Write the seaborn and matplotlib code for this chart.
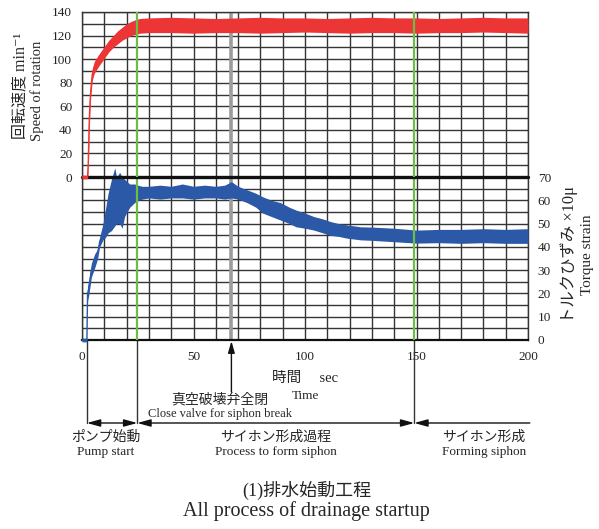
import matplotlib
matplotlib.use("Agg")
import matplotlib.pyplot as plt
import matplotlib.transforms as mtransforms
import pandas as pd
import seaborn as sns

# Pump rotation speed (min^-1): lower / upper edge of the recorded trace
speed_time = [0, 2.3, 2.5, 2.8, 3.2, 3.6, 4.0, 4.6, 5.5, 6.5, 7.5, 9, 10.5, 12, 14, 16, 18,
              20, 22, 24, 26, 30, 40, 50, 60, 70, 80, 90, 100, 110, 120, 130, 140, 150,
              160, 170, 180, 190, 200]
speed_low = [-1.5, -1.5, -1.5, 5, 35, 58, 70, 82, 88, 91, 94, 98, 102, 106, 110, 113, 116,
             118, 120, 121, 122, 122.5, 122.5, 122, 122.5, 122.5, 122, 122.5, 123, 122.5,
             122, 122.5, 122.5, 122, 122.5, 122.5, 123, 122.5, 122]
speed_high = [1.5, 1.5, 3, 18, 55, 70, 80, 92, 98, 101, 104, 108, 112, 116, 120, 124, 127,
              130, 132, 133.5, 134.5, 135, 135.5, 135, 134.5, 135, 135.5, 135, 135, 134.5,
              135, 135.5, 135, 135, 134.5, 135, 135.5, 135, 135]

# Torque strain (x10 micro): lower / upper edge of the recorded trace
torque_time = [0, 2.2, 2.5, 3.0, 4.2, 5.7, 7.0, 7.9, 9.4, 10.5, 11.7, 13.2, 14.7, 15.5, 16.9,
               18.0, 19.1, 20.2, 21.4, 22.5, 23.6, 25, 27, 30, 35, 40, 45, 50, 55, 60, 64,
               67, 70, 74, 78, 81, 85, 89, 93, 96, 100, 104, 108, 111, 115, 119, 125, 130,
               140, 150, 160, 170, 180, 190, 200]
torque_low = [-0.8, -0.8, 17, 19, 27, 31, 35, 40, 43, 44, 46, 47, 49, 50, 50,
              48, 53, 55, 57, 58, 59, 60, 60.5, 61, 60.5, 61, 61, 60.5, 61, 61, 60.5,
              61, 60.5, 59, 57, 54.5, 53, 51.5, 50, 48.6, 48, 47.2, 46, 45, 44.5, 43.7, 43,
              42.8, 42.2, 41.6, 41.8, 41.5, 41.8, 41.5, 41.5]
torque_high = [0.8, 0.8, 23, 25, 33, 37, 39, 44, 50, 56, 63, 69, 74, 70, 72,
               70, 69, 68, 67, 67, 67, 66.5, 66, 66, 66.5, 66, 67, 66, 66.5, 66, 66.5,
               68, 66, 64.5, 63, 61.5, 60, 59, 57, 55.8, 54.5, 53, 52, 51, 50, 49.4, 48.6,
               48.5, 48, 47.2, 47.5, 47.5, 47.8, 47.5, 47.8]

# Process events (sec)
pump_start = 2.2
valve_close_start = 24.8
valve_closed = 67
siphon_formed = 149

speed_ticks = [0, 20, 40, 60, 80, 100, 120, 140]
torque_ticks = [0, 10, 20, 30, 40, 50, 60, 70]
time_ticks = [0, 50, 100, 150, 200]

RED = "#ec3535"
BLUE = "#2c58a8"
GREEN = "#6cbf45"
GRID = "#353535"

sns.set_theme(style="white")
plt.rcParams["font.family"] = ["Liberation Serif", "Noto Sans CJK JP", "DejaVu Serif"]

W, H = 599, 529
fig = plt.figure(figsize=(W / 100, H / 100), dpi=100)
fig.patch.set_facecolor("white")


def fx(px):
    return px / W


def fy(py):
    return 1 - py / H


X0, X1 = 82, 528
ax_lo = fig.add_axes([fx(X0), fy(340), (X1 - X0) / W, (340 - 177) / H])
ax_up = fig.add_axes([fx(X0), fy(177), (X1 - X0) / W, (177 - 12) / H])

speed_df = pd.DataFrame({"time": speed_time + speed_time, "speed": speed_low + speed_high})
torque_df = pd.DataFrame({"time": torque_time + torque_time, "torque": torque_low + torque_high})

sns.lineplot(data=speed_df, x="time", y="speed", ax=ax_up, color=RED, estimator="mean",
             errorbar=("pi", 100), err_kws={"alpha": 1, "linewidth": 0}, linewidth=1.0)
sns.lineplot(data=torque_df, x="time", y="torque", ax=ax_lo, color=BLUE, estimator="mean",
             errorbar=("pi", 100), err_kws={"alpha": 1, "linewidth": 0}, linewidth=1.0)

for ax in (ax_up, ax_lo):
    for art in list(ax.collections) + list(ax.lines):
        art.set_clip_on(False)
        art.set_zorder(3)
    ax.patch.set_visible(False)
    ax.set_xlim(0, 200)
    ax.set_xticks(time_ticks)
    ax.set_xticks(range(0, 201, 10), minor=True)
    ax.grid(which="both", color=GRID, linewidth=1.0)
    ax.set_axisbelow(True)
    ax.set_xlabel("")
    ax.set_ylabel("")
    ax.tick_params(which="both", length=0, labelsize=9.5, pad=7, colors="#222222")
    for sp in ax.spines.values():
        sp.set_color(GRID)
        sp.set_linewidth(1.0)
    ax.axvline(valve_closed, color="#9c9c9c", linewidth=2.6, zorder=1.5)
    for t in (valve_close_start, siphon_formed):
        ax.axvline(t, color=GREEN, linewidth=1.6, zorder=4)

ax_up.set_ylim(0, 140)
ax_up.set_yticks(speed_ticks)
ax_up.set_yticks(range(0, 141, 10), minor=True)
ax_up.tick_params(axis="x", labelbottom=False)
ax_up.spines["bottom"].set_visible(False)
ax_up.axhline(0, color="#111111", linewidth=2.4, zorder=2.6, clip_on=False)

ax_lo.set_ylim(0, 70)
ax_lo.set_yticks(torque_ticks)
ax_lo.set_yticks(range(0, 71, 5), minor=True)
ax_lo.yaxis.tick_right()
ax_lo.spines["top"].set_visible(False)
ax_lo.spines["bottom"].set_color("#111111")
ax_lo.spines["bottom"].set_linewidth(1.6)
ax_lo.tick_params(axis="x", pad=8)

# Axis titles
fig.text(fx(20), fy(86), "回転速度 min⁻¹", rotation=90, ha="center", va="center", fontsize=11.5)
fig.text(fx(37), fy(91), "Speed of rotation", rotation=90, ha="center", va="center", fontsize=10.5)
fig.text(fx(569), fy(255), "トルクひずみ ×10μ", rotation=90, ha="center", va="center", fontsize=11.8)
fig.text(fx(587), fy(255), "Torque strain", rotation=90, ha="center", va="center", fontsize=11)

trans = mtransforms.blended_transform_factory(ax_lo.transData, fig.transFigure)

ax_lo.text(100, fy(378), "時間　 sec", transform=trans, ha="center", va="center", fontsize=10.5)
ax_lo.text(100, fy(396), "Time", transform=trans, ha="center", va="center", fontsize=9.5)

# Valve closing marker
ax_lo.annotate("", xy=(valve_closed, fy(341)), xytext=(valve_closed, fy(392)),
               xycoords=trans, textcoords=trans, annotation_clip=False,
               arrowprops=dict(arrowstyle="-|>,head_length=0.7,head_width=0.2",
                               color="#111111", lw=1.0, shrinkA=0, shrinkB=0,
                               mutation_scale=10))
ax_lo.text(61.7, fy(400), "真空破壊弁全閉", transform=trans, ha="center", va="center",
           fontsize=10)
ax_lo.text(61.7, fy(414), "Close valve for siphon break", transform=trans, ha="center",
           va="center", fontsize=9)

# Process phases
for t in (pump_start, valve_close_start, siphon_formed):
    ax_lo.plot([t, t], [fy(340), fy(423)], transform=trans, color="#333333", lw=1.0,
               clip_on=False)

arrow_kw = dict(color="#111111", lw=1.0, shrinkA=0, shrinkB=0, mutation_scale=10)
for a, b in ((pump_start, valve_close_start), (valve_close_start, siphon_formed)):
    ax_lo.annotate("", xy=(a, fy(423)), xytext=(b, fy(423)), xycoords=trans, textcoords=trans,
                   annotation_clip=False,
                   arrowprops=dict(arrowstyle="<|-|>,head_length=0.8,head_width=0.22",
                                   **arrow_kw))
ax_lo.annotate("", xy=(siphon_formed, fy(423)), xytext=(200.8, fy(423)), xycoords=trans,
               textcoords=trans, annotation_clip=False,
               arrowprops=dict(arrowstyle="-|>,head_length=0.8,head_width=0.22", **arrow_kw))

phases = [(10.8, "ポンプ始動", "Pump start"),
          (87, "サイホン形成過程", "Process to form siphon"),
          (180.3, "サイホン形成", "Forming siphon")]
for t, jp, en in phases:
    ax_lo.text(t, fy(437), jp, transform=trans, ha="center", va="center", fontsize=10)
    ax_lo.text(t, fy(452), en, transform=trans, ha="center", va="center", fontsize=9.5)

fig.text(fx(307), fy(490), "(1)排水始動工程", ha="center", va="center", fontsize=13)
fig.text(fx(306), fy(511), "All process of drainage startup", ha="center", va="center",
         fontsize=14.5)

fig.savefig("out.png", dpi=100)
